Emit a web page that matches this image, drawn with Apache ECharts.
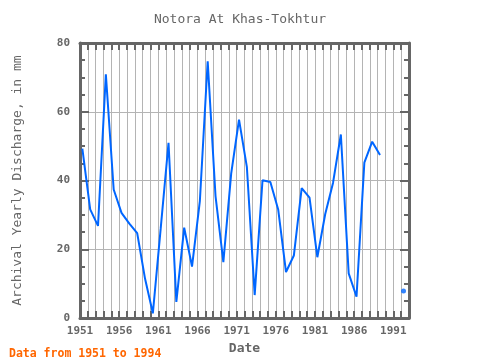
<!DOCTYPE html>
<html>
<head>
<meta charset="utf-8">
<script src="https://cdn.jsdelivr.net/npm/echarts@6/dist/echarts.min.js"></script>
<style>html,body{margin:0;padding:0;background:#fff}#c{width:480px;height:360px}</style>
</head>
<body>
<div id="c"></div>
<script>
const titleText = 'Notora At Khas-Tokhtur';
const yAxisTitle = 'Archival Yearly Discharge, in mm';
const xAxisTitle = 'Date';
const footerText = 'Data from 1951 to 1994';
const years = [1951,1952,1953,1954,1955,1956,1957,1958,1959,1960,
               1961,1962,1963,1964,1965,1966,1967,1968,1969,1970,
               1971,1972,1973,1974,1975,1976,1977,1978,1979,1980,
               1981,1982,1983,1984,1985,1986,1987,1988,1989,1990,
               1991,1992];
const discharge = [49.3,31.6,26.8,70.9,37.4,30.6,27.5,24.7,11.5,1.4,
                   26.0,51.0,4.7,26.3,15.0,34.0,74.7,35.5,16.3,42.0,
                   57.7,44.0,6.7,40.1,39.6,31.6,13.4,18.2,37.8,35.0,
                   17.7,30.2,39.3,53.4,13.0,6.2,45.2,51.3,47.4,null,
                   null,7.9];
const xTickStart = 1951, xTickEnd = 1993, xLabelStep = 5;
const yTicks = [0,20,40,60,80];
const pointOffset = 0.3; // marks sit inside each year

const lineData = years.map((y,i)=>[y+pointOffset, discharge[i]]);
const isolated = lineData.filter((p,i)=> p[1]!=null &&
   (i===0 || discharge[i-1]==null) && (i===discharge.length-1 || discharge[i+1]==null));

const mono = 'DejaVu Sans Mono';
const axisCol = '#666666';
const chart = echarts.init(document.getElementById('c'), null, {renderer:'canvas'});
const xBase = {
  type:'value', min:xTickStart, max:xTickEnd, interval:1,
  axisLine:{show:true, onZero:false, lineStyle:{color:axisCol, width:3}},
  axisTick:{show:true, inside:true, length:7, lineStyle:{color:axisCol, width:2}},
};
const yBase = {
  type:'value', min:yTicks[0], max:yTicks[yTicks.length-1], interval:20,
  axisLine:{show:true, onZero:false, lineStyle:{color:axisCol, width:3}},
  axisTick:{show:true, inside:true, length:9, lineStyle:{color:axisCol, width:2}},
  minorTick:{show:true, splitNumber:4, length:5, lineStyle:{color:axisCol, width:2}},
};
chart.setOption({
  animation:false,
  backgroundColor:'#ffffff',
  title:[
    {text:titleText, left:'center', top:8, textStyle:{fontFamily:mono, fontSize:13, fontWeight:'normal', color:'#666666'}},
    {text:footerText, left:4, top:343, textStyle:{fontFamily:mono, fontSize:11.5, fontWeight:'bold', color:'#ff6600'}}
  ],
  grid:{left:80, right:71, top:43, bottom:38, containLabel:false},
  xAxis:[
    Object.assign({}, xBase, {position:'bottom',
      name:xAxisTitle, nameLocation:'middle', nameGap:19,
      nameTextStyle:{fontFamily:mono, fontSize:13, fontWeight:'bold', color:'#666666'},
      splitLine:{show:true, lineStyle:{color:'#b4b4b4', width:1}},
      axisLabel:{show:true, margin:8, fontFamily:mono, fontSize:11, fontWeight:'bold', color:'#666666',
        showMinLabel:true, showMaxLabel:true,
        formatter:v=> ((Math.round(v)-xTickStart)%xLabelStep===0 ? String(Math.round(v)) : '')}
    }),
    Object.assign({}, xBase, {position:'top', axisLabel:{show:false}, splitLine:{show:false}})
  ],
  yAxis:[
    Object.assign({}, yBase, {position:'left',
      name:yAxisTitle, nameLocation:'middle', nameGap:56,
      nameTextStyle:{fontFamily:mono, fontSize:13, fontWeight:'normal', color:'#666666'},
      splitLine:{show:true, lineStyle:{color:'#b4b4b4', width:1}},
      axisLabel:{show:true, margin:10, fontFamily:mono, fontSize:11, fontWeight:'bold', color:'#666666'}
    }),
    Object.assign({}, yBase, {position:'right', axisLabel:{show:false}, splitLine:{show:false}})
  ],
  series:[
    {type:'line', data:lineData, xAxisIndex:0, yAxisIndex:0, showSymbol:false, connectNulls:false,
     lineStyle:{color:'#0066ff', width:2}, itemStyle:{color:'#0066ff'}},
    {type:'scatter', data:isolated, symbol:'circle', symbolSize:5, itemStyle:{color:'#0066ff'}}
  ]
});
</script>
</body>
</html>
